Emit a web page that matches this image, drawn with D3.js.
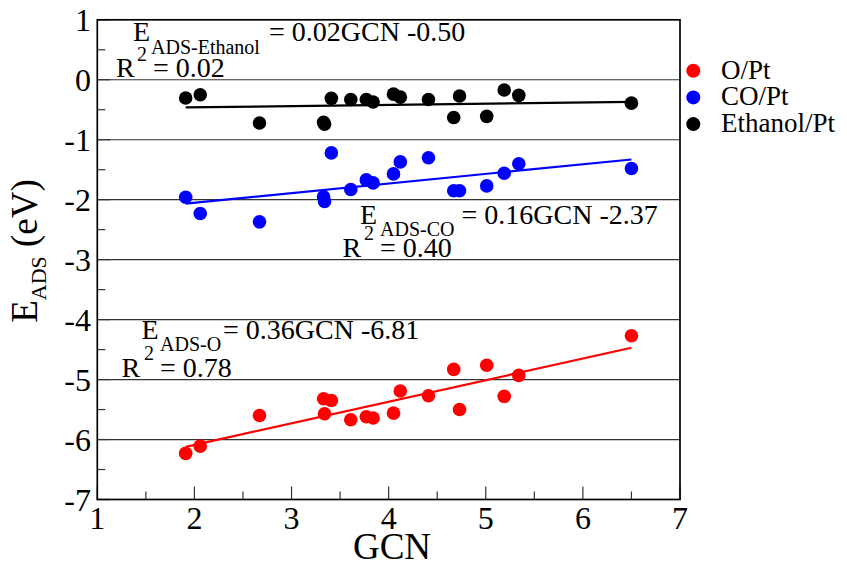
<!DOCTYPE html>
<html>
<head>
<meta charset="utf-8">
<script src="https://cdn.jsdelivr.net/npm/d3@7"></script>
<style>
  html, body { margin: 0; padding: 0; background: #fff; }
  svg { display: block; }
</style>
</head>
<body>
<svg id="chart" width="847" height="564" font-family="'Liberation Serif', Tinos, 'Times New Roman', Times, 'DejaVu Serif', serif"></svg>
<script>
// ---- data ----
const gcn = [1.91, 2.06, 2.67, 3.33, 3.34, 3.41, 3.61, 3.77, 3.84, 4.05, 4.12, 4.41, 4.67, 4.73, 5.01, 5.19, 5.34, 6.50];
const eO = [-6.23, -6.11, -5.60, -5.32, -5.57, -5.35, -5.67, -5.62, -5.64, -5.56, -5.19, -5.27, -4.83, -5.50, -4.76, -5.28, -4.93, -4.27];
const eCO = [-1.96, -2.23, -2.37, -1.95, -2.03, -1.22, -1.83, -1.67, -1.72, -1.57, -1.37, -1.30, -1.85, -1.85, -1.77, -1.56, -1.40, -1.48];
const eEthanol = [-0.305, -0.25, -0.72, -0.71, -0.74, -0.31, -0.33, -0.33, -0.37, -0.24, -0.29, -0.33, -0.63, -0.27, -0.61, -0.17, -0.26, -0.39];
const seriesNames = ["O/Pt", "CO/Pt", "Ethanol/Pt"];
const seriesColors = ["#ff0000", "#0000ff", "#000000"];
const fitSlopes = [0.36, 0.16, 0.02];
const fitIntercepts = [-6.81, -2.37, -0.50];
const fitRange = [1.91, 6.50];
const xTicks = [1, 2, 3, 4, 5, 6, 7];
const yTicks = [1, 0, -1, -2, -3, -4, -5, -6, -7];
const gridValues = [0, -1, -2, -3, -4, -5, -6];
const eqSubs = ["ADS-O", "ADS-CO", "ADS-Ethanol"];
const eqRhs = ["= 0.36GCN -6.81", "= 0.16GCN -2.37", "= 0.02GCN -0.50"];
const r2Texts = ["= 0.78", "= 0.40", "= 0.02"];

// ---- layout ----
const svg = d3.select("#chart");
const L = 97.3, R = 680, T = 19.8, B = 499.5;
const x = d3.scaleLinear().domain([1, 7]).range([L, R]);
const y = d3.scaleLinear().domain([-7, 1]).range([B, T]);
const series = [eO, eCO, eEthanol];

// grid lines
svg.append("g").selectAll("line").data(gridValues).join("line")
  .attr("x1", L).attr("x2", R)
  .attr("y1", d => y(d)).attr("y2", d => y(d))
  .attr("stroke", "#333").attr("stroke-width", 1.2);

// ticks (inward)
const tickColor = "#333";
const xMinor = d3.range(1.5, 7, 1);
const yMinor = d3.range(-6.5, 1, 1);
const tg = svg.append("g").attr("stroke", tickColor).attr("stroke-width", 1.2);
tg.selectAll(".xmaj").data(xTicks).join("line").attr("class", "xmaj")
  .attr("x1", d => x(d)).attr("x2", d => x(d)).attr("y1", B).attr("y2", B - 13);
tg.selectAll(".xmin").data(xMinor).join("line").attr("class", "xmin")
  .attr("x1", d => x(d)).attr("x2", d => x(d)).attr("y1", B).attr("y2", B - 8);
tg.selectAll(".ymaj").data(yTicks).join("line").attr("class", "ymaj")
  .attr("y1", d => y(d)).attr("y2", d => y(d)).attr("x1", L).attr("x2", L + 13);
tg.selectAll(".ymin").data(yMinor).join("line").attr("class", "ymin")
  .attr("y1", d => y(d)).attr("y2", d => y(d)).attr("x1", L).attr("x2", L + 8);

// frame
svg.append("rect").attr("x", L).attr("y", T).attr("width", R - L).attr("height", B - T)
  .attr("fill", "none").attr("stroke", "#000").attr("stroke-width", 1.7);

// tick labels
svg.append("g").selectAll("text").data(xTicks).join("text")
  .attr("x", d => x(d)).attr("y", 529)
  .attr("text-anchor", "middle").attr("font-size", 32).text(d => d);
svg.append("g").selectAll("text").data(yTicks).join("text")
  .attr("x", 91).attr("y", d => y(d) + 11)
  .attr("text-anchor", "end").attr("font-size", 32).text(d => d);

// axis titles
svg.append("text").attr("x", 392).attr("y", 559).attr("text-anchor", "middle")
  .attr("font-size", 37).text("GCN");
const yt = svg.append("text").attr("transform", "translate(37,251) rotate(-90)")
  .attr("text-anchor", "middle").attr("font-size", 37);
yt.append("tspan").text("E");
yt.append("tspan").attr("font-size", 22).attr("dy", 9).text("ADS");
yt.append("tspan").attr("dy", -9).text(" (eV)");

// fit lines
const lineGen = d3.line().x(d => x(d[0])).y(d => y(d[1]));
series.forEach((s, i) => {
  const pts = fitRange.map(g => [g, fitSlopes[i] * g + fitIntercepts[i]]);
  svg.append("path").attr("d", lineGen(pts)).attr("fill", "none")
    .attr("stroke", seriesColors[i]).attr("stroke-width", 2.2);
});

// points
series.forEach((s, i) => {
  svg.append("g").selectAll("circle").data(gcn.map((g, j) => [g, s[j]])).join("circle")
    .attr("cx", d => x(d[0])).attr("cy", d => y(d[1])).attr("r", 6.8)
    .attr("fill", seriesColors[i]);
});

// equation annotations: [E x, E baseline, sub x, rhs x, R x, R baseline, sup x, r2 x]
const eqPos = [
  [141.5, 338.5, 160, 223, 121.5, 376.5, 144, 160],
  [360, 223.5, 380, 461.5, 342.5, 256.5, 364, 380],
  [133, 41, 151, 269, 116, 77, 137, 153]
];
eqPos.forEach((p, i) => {
  const g = svg.append("g");
  g.append("text").attr("x", p[0]).attr("y", p[1]).attr("font-size", 28).text("E");
  g.append("text").attr("x", p[2]).attr("y", p[1] + 12.5).attr("font-size", 20).text(eqSubs[i]);
  g.append("text").attr("x", p[3]).attr("y", p[1]).attr("font-size", 28).text(eqRhs[i]);
  g.append("text").attr("x", p[4]).attr("y", p[5]).attr("font-size", 28).text("R");
  g.append("text").attr("x", p[6]).attr("y", p[5] - 16.5).attr("font-size", 20).text("2");
  g.append("text").attr("x", p[7]).attr("y", p[5]).attr("font-size", 28).text(r2Texts[i]);
});

// legend
const lg = svg.append("g");
seriesNames.forEach((n, i) => {
  const cy = 70.7 + i * 26.7;
  lg.append("circle").attr("cx", 693.3).attr("cy", cy).attr("r", 7).attr("fill", seriesColors[i]);
  lg.append("text").attr("x", 721).attr("y", cy + 7.8).attr("font-size", 27).text(n);
});
</script>
</body>
</html>
